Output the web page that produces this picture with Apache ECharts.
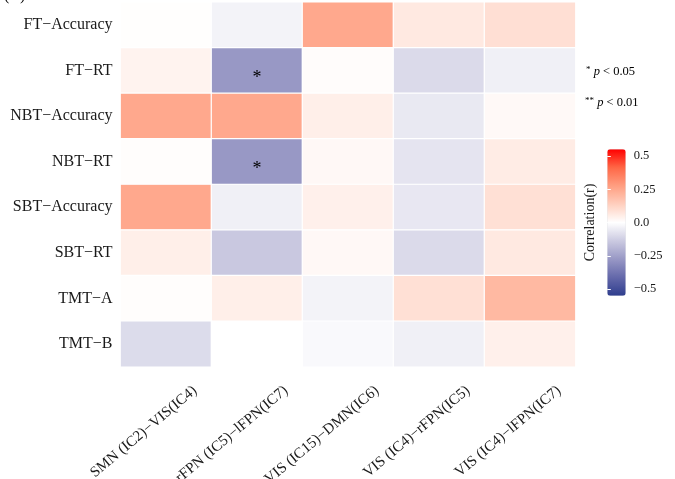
<!DOCTYPE html>
<html>
<head>
<meta charset="utf-8">
<script src="https://cdn.jsdelivr.net/npm/echarts@6/dist/echarts.min.js"></script>
<style>html,body{margin:0;padding:0;background:#fff}#c{width:675px;height:479px}</style>
</head>
<body>
<div id="c"></div>
<script>
// ---- data ----
var connections = ['SMN (IC2)\u2212VIS(IC4)', 'rFPN (IC5)\u2212lFPN(IC7)', 'VIS (IC15)\u2212DMN(IC6)', 'VIS (IC4)\u2212rFPN(IC5)', 'VIS (IC4)\u2212lFPN(IC7)'];
var measures = ['FT\u2212Accuracy', 'FT\u2212RT', 'NBT\u2212Accuracy', 'NBT\u2212RT', 'SBT\u2212Accuracy', 'SBT\u2212RT', 'TMT\u2212A', 'TMT\u2212B'];
var rFT_Acc  = [0.004, -0.032, 0.247, 0.063, 0.092];
var rFT_RT   = [0.034, -0.275, 0.009, -0.095, -0.040];
var rNBT_Acc = [0.247, 0.247, 0.046, -0.058, 0.017];
var rNBT_RT  = [0.006, -0.275, 0.020, -0.069, 0.055];
var rSBT_Acc = [0.247, -0.040, 0.043, -0.061, 0.089];
var rSBT_RT  = [0.046, -0.143, 0.020, -0.095, 0.063];
var rTMT_A   = [0.006, 0.046, -0.032, 0.089, 0.200];
var rTMT_B   = [-0.092, 0.000, -0.016, -0.040, 0.043];
var sigFT_RT  = ['', '*', '', '', ''];
var sigNBT_RT = ['', '*', '', '', ''];
var colorbarTicks = [-0.5, -0.25, 0, 0.25, 0.5];
var colorbarTickLabels = ['\u22120.5', '\u22120.25', '0.0', '0.25', '0.5'];
var rangeMin = -0.55, rangeMax = 0.55;

var rows = [rFT_Acc, rFT_RT, rNBT_Acc, rNBT_RT, rSBT_Acc, rSBT_RT, rTMT_A, rTMT_B];
var sigRows = {1: sigFT_RT, 3: sigNBT_RT};
var data = [];
rows.forEach(function (row, i) {
  row.forEach(function (v, j) {
    var s = sigRows[i] ? sigRows[i][j] : '';
    data.push({value: [j, i, v], sig: s});
  });
});

var FONT = '"Liberation Serif", "DejaVu Serif", serif';
var chart = echarts.init(document.getElementById('c'), null, {renderer: 'canvas'});
var gridMain = {left: 120.5, top: 2.2, width: 455, height: 364.6};
chart.setOption({
  backgroundColor: '#ffffff',
  animation: false,
  title: [
    {text: '(B)', left: 4, top: -12, padding: 0, textStyle: {fontFamily: FONT, fontSize: 16, fontWeight: 'normal', color: '#000'}},
    {text: '{s|*} {i|p} < 0.05', left: 586, top: 65, padding: 0,
     textStyle: {rich: {s: {fontFamily: FONT, fontSize: 9, color: '#000', verticalAlign: 'top', padding: [0,0,4,0]}, i: {fontFamily: FONT, fontSize: 12.5, fontStyle: 'italic', color: '#000'}}, fontFamily: FONT, fontSize: 12.5, fontWeight: 'normal', color: '#000'}},
    {text: '{s|**} {i|p} < 0.01', left: 585, top: 96, padding: 0,
     textStyle: {rich: {s: {fontFamily: FONT, fontSize: 9, color: '#000', verticalAlign: 'top', padding: [0,0,4,0]}, i: {fontFamily: FONT, fontSize: 12.5, fontStyle: 'italic', color: '#000'}}, fontFamily: FONT, fontSize: 12.5, fontWeight: 'normal', color: '#000'}}
  ],
  grid: [
    {left: gridMain.left, top: gridMain.top, width: gridMain.width, height: gridMain.height, outerBoundsMode: 'none'},
    {left: gridMain.left + 29, top: gridMain.top, width: gridMain.width, height: gridMain.height, outerBoundsMode: 'none'},
    {left: 607.3, top: 149.3, width: 18.4, height: 146.4, outerBoundsMode: 'none'}
  ],
  xAxis: [
    {type: 'category', gridIndex: 0, data: connections, axisLine: {show: false}, axisTick: {show: false}, axisLabel: {show: false}, splitLine: {show: false}},
    {type: 'category', gridIndex: 1, data: connections, axisLine: {show: false}, axisTick: {show: false}, z: 10,
     axisLabel: {rotate: 40, margin: 22, interval: 0, hideOverlap: false, fontFamily: FONT, fontSize: 15, color: '#1a1a1a'}},
    {type: 'value', gridIndex: 2, show: false}
  ],
  yAxis: [
    {type: 'category', gridIndex: 0, data: measures, inverse: true, axisLine: {show: false}, axisTick: {show: false},
     axisLabel: {margin: 8, fontFamily: FONT, fontSize: 16, color: '#1a1a1a'}},
    {type: 'value', gridIndex: 1, show: false},
    {type: 'value', gridIndex: 2, position: 'right', min: rangeMin, max: rangeMax, z: 10,
     axisLine: {show: false}, splitLine: {show: false},
     axisTick: {show: true, inside: true, length: 3.5, lineStyle: {color: '#fff', width: 1}, customValues: colorbarTicks},
     axisLabel: {margin: 8, fontFamily: FONT, fontSize: 12.5, color: '#1a1a1a', customValues: colorbarTicks,
       formatter: function (v) { var k = colorbarTicks.indexOf(v); return k >= 0 ? colorbarTickLabels[k] : ''; }}},
    {type: 'value', gridIndex: 2, position: 'left', min: rangeMin, max: rangeMax, z: 10,
     name: 'Correlation(r)', nameLocation: 'middle', nameRotate: 90, nameGap: 10,
     nameTextStyle: {fontFamily: FONT, fontSize: 14, color: '#1a1a1a'},
     axisLine: {show: false}, splitLine: {show: false},
     axisTick: {show: true, inside: true, length: 3.5, lineStyle: {color: '#fff', width: 1}, customValues: colorbarTicks},
     axisLabel: {show: false}}
  ],
  visualMap: {
    type: 'continuous', min: rangeMin, max: rangeMax, seriesIndex: 0, orient: 'vertical',
    left: 607.3, top: 149.3, itemWidth: 18.4, itemHeight: 146.4, padding: 0, calculable: false, text: null,
    inRange: {color: ['#2F3E8E', '#6468AA', '#9898C5', '#CBCAE1', '#FFFFFF', '#FFCFBE', '#FF9E81', '#FF6746', '#FF0000']}
  },
  series: [{
    type: 'heatmap', xAxisIndex: 0, yAxisIndex: 0, data: data,
    itemStyle: {borderColor: '#ffffff', borderWidth: 1.2},
    label: {show: true, fontFamily: FONT, fontSize: 18, color: '#000', offset: [0, 8],
      formatter: function (p) { return p.data.sig; }},
    emphasis: {disabled: true}
  }]
});
</script>
</body>
</html>
